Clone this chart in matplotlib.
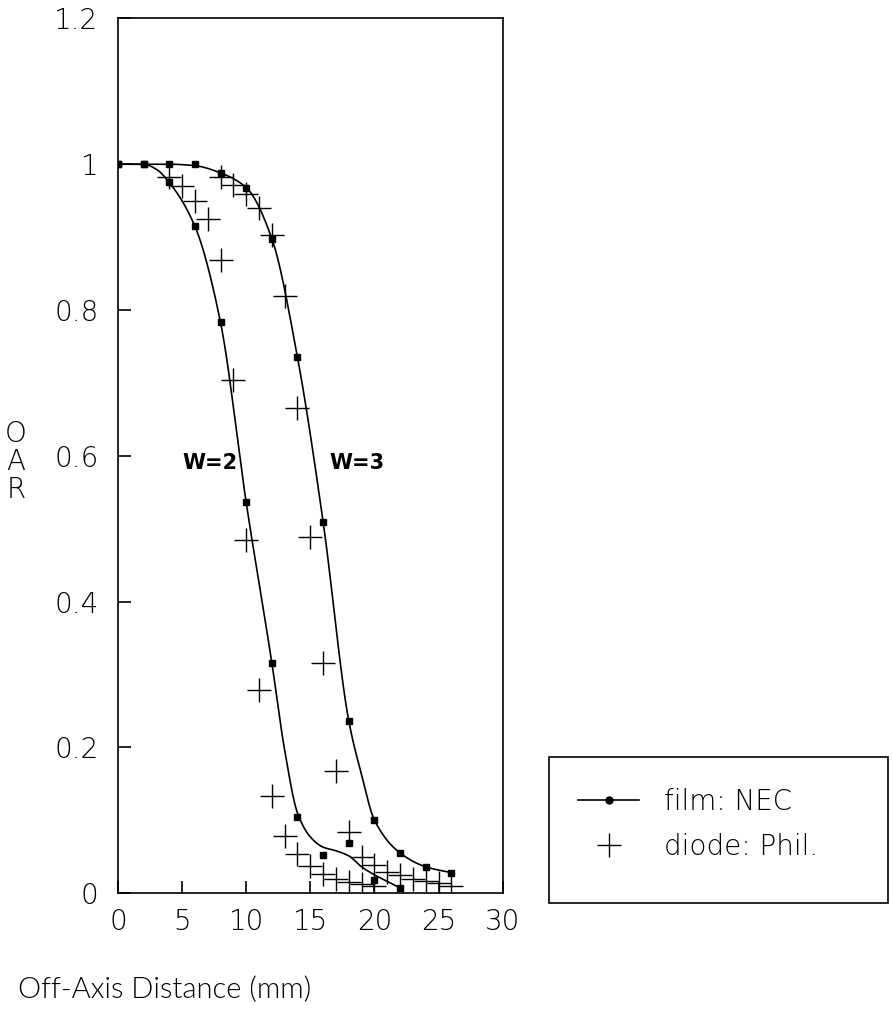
import numpy as np
import matplotlib
matplotlib.use("Agg")
import matplotlib.pyplot as plt
from matplotlib.lines import Line2D
from matplotlib.patches import Rectangle

# ---------------- data ----------------
# film: NEC measured points
film_w2_x = [0, 2, 4, 6, 8, 10, 12, 14, 16, 18, 20, 22]
film_w2_y = [1.0, 1.0, 0.975, 0.915, 0.783, 0.536, 0.316, 0.104, 0.052, 0.069, 0.018, 0.007]
film_w3_x = [0, 2, 4, 6, 8, 10, 12, 14, 16, 18, 20, 22, 24, 26]
film_w3_y = [1.0, 1.0, 1.0, 1.0, 0.988, 0.968, 0.898, 0.735, 0.509, 0.236, 0.100, 0.055, 0.036, 0.028]

# smooth fitted curves (knots)
fit_w2_x = [0, 2, 3, 4, 6, 8, 10, 12, 13, 14, 15, 16, 17, 18, 19, 20, 21, 22]
fit_w2_y = [1.0, 1.0, 0.993, 0.975, 0.915, 0.783, 0.536, 0.316, 0.196, 0.110, 0.077, 0.063,
            0.058, 0.051, 0.036, 0.025, 0.016, 0.007]
fit_w3_x = [0, 2, 4, 6, 8, 10, 12, 14, 16, 18, 19, 20, 22, 24, 26]
fit_w3_y = [1.0, 1.0, 1.0, 0.998, 0.988, 0.968, 0.898, 0.735, 0.509, 0.236, 0.162, 0.100,
            0.055, 0.036, 0.028]

# diode: Phil. measured points
diode_w2_x = [4, 5, 6, 7, 8, 9, 10, 11, 12, 13, 14, 15, 16, 17, 18, 19, 20]
diode_w2_y = [0.982, 0.970, 0.949, 0.925, 0.868, 0.704, 0.484, 0.278, 0.133, 0.078, 0.053,
              0.037, 0.026, 0.019, 0.015, 0.012, 0.010]
diode_w3_x = [8, 9, 10, 11, 12, 13, 14, 15, 16, 17, 18, 19, 20, 21, 22, 23, 24, 25, 26]
diode_w3_y = [0.982, 0.971, 0.959, 0.940, 0.903, 0.819, 0.665, 0.488, 0.316, 0.167, 0.084,
              0.050, 0.038, 0.029, 0.025, 0.020, 0.016, 0.014, 0.010]

x_ticks = [0, 5, 10, 15, 20, 25, 30]
y_ticks = [0, 0.2, 0.4, 0.6, 0.8, 1.0, 1.2]
y_tick_labels = ["0", "0.2", "0.4", "0.6", "0.8", "1", "1.2"]
curve_labels = ["W=2", "W=3"]
legend_labels = ["film: NEC", "diode: Phil."]


def pchip(x, y, xs):
    x = np.asarray(x, float)
    y = np.asarray(y, float)
    h = np.diff(x)
    d = np.diff(y) / h
    n = len(x)
    m = np.zeros(n)
    for k in range(1, n - 1):
        if d[k - 1] * d[k] <= 0:
            m[k] = 0.0
        else:
            w1 = 2 * h[k] + h[k - 1]
            w2 = h[k] + 2 * h[k - 1]
            m[k] = (w1 + w2) / (w1 / d[k - 1] + w2 / d[k])
    m[0] = d[0]
    m[-1] = d[-1]
    idx = np.clip(np.searchsorted(x, xs) - 1, 0, n - 2)
    t = (xs - x[idx]) / h[idx]
    h00 = 2 * t**3 - 3 * t**2 + 1
    h10 = t**3 - 2 * t**2 + t
    h01 = -2 * t**3 + 3 * t**2
    h11 = t**3 - t**2
    return h00 * y[idx] + h10 * h[idx] * m[idx] + h01 * y[idx + 1] + h11 * h[idx] * m[idx + 1]


plt.rcParams['font.family'] = ['DejaVu Sans']
THIN = dict(family=['DejaVu Sans'], weight='light')

fig = plt.figure(figsize=(8.93, 10.23), dpi=100)
ax = fig.add_axes([0.132, 0.127, 0.431, 0.855])

lw = 1.2
for fx, fy in [(fit_w2_x, fit_w2_y), (fit_w3_x, fit_w3_y)]:
    xs = np.linspace(fx[0], fx[-1], 400)
    ax.plot(xs, pchip(fx, fy, xs), color='black', lw=lw)

for px, py in [(film_w2_x, film_w2_y), (film_w3_x, film_w3_y)]:
    ax.plot(px, py, linestyle='none', marker='s', ms=4.5, color='black')

for px, py in [(diode_w2_x, diode_w2_y), (diode_w3_x, diode_w3_y)]:
    ax.plot(px, py, linestyle='none', marker='+', ms=17, mew=1.0, color='black')

ax.text(5.0, 0.59, curve_labels[0], fontsize=15, fontweight='bold', ha='left', va='center',
        family=['DejaVu Sans'])
ax.text(16.5, 0.59, curve_labels[1], fontsize=15, fontweight='bold', ha='left', va='center',
        family=['DejaVu Sans'])

ax.set_xlim(0, 30)
ax.set_ylim(0, 1.2)
ax.set_xticks(x_ticks)
ax.set_yticks(y_ticks)
ax.set_yticklabels(y_tick_labels)
ax.tick_params(direction='in', length=9, width=1.2, labelsize=20, top=False, right=False)
ax.tick_params(axis='y', pad=14)
ax.tick_params(axis='x', pad=11)
for lab in ax.get_xticklabels() + ax.get_yticklabels():
    lab.set_fontweight('light')
for s in ax.spines.values():
    s.set_linewidth(1.2)

fig.text(18 / 893, 1 - 990 / 1023, "Off-Axis Distance (mm)", fontsize=21, ha='left',
         va='center', family=['Lato', 'DejaVu Sans'], weight=300)
fig.text(16 / 893, 1 - 462 / 1023, "O\nA\nR", fontsize=20, ha='center', va='center',
         linespacing=1.0, **THIN)

# legend box
fig.patches.append(Rectangle((549 / 893, 1 - 903 / 1023), 339 / 893, 146 / 1023,
                             transform=fig.transFigure, fill=False, edgecolor='black',
                             linewidth=1.2))
handles = [Line2D([], [], color='black', lw=1.2, marker='o', ms=5),
           Line2D([], [], color='black', lw=0, marker='+', ms=17, mew=1.0)]
leg = fig.legend(handles, legend_labels, loc='upper left',
                 bbox_to_anchor=(578 / 893, 1 - 788 / 1023),
                 fontsize=20, frameon=False, handlelength=2.2, handletextpad=0.9,
                 labelspacing=0.6, borderpad=0.0, borderaxespad=0.0,
                 prop=dict(family=['DejaVu Sans'], weight='light', size=20))

fig.savefig("out.png", dpi=100)
